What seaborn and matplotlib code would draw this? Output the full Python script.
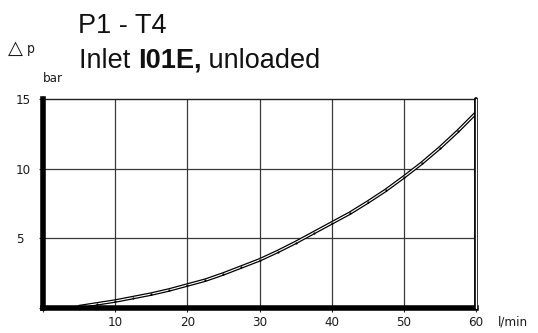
import matplotlib
matplotlib.use("Agg")
import matplotlib.pyplot as plt
import matplotlib.patheffects as pe
import seaborn as sns
import pandas as pd

# Pressure drop curve, P1 -> T4, inlet I01E unloaded
flow_lpm = [5, 7.5, 10, 12.5, 15, 17.5, 20, 22.5, 25, 27.5, 30, 32.5,
            35, 37.5, 40, 42.5, 45, 47.5, 50, 52.5, 55, 57.5, 60]
dp_bar = [0.1, 0.3, 0.5, 0.75, 1.0, 1.3, 1.65, 2.0, 2.45, 2.95, 3.45, 4.05,
          4.7, 5.4, 6.1, 6.8, 7.6, 8.45, 9.4, 10.4, 11.5, 12.7, 14.0]

x_ticks = [0, 10, 20, 30, 40, 50, 60]
x_tick_labels = ["", "10", "20", "30", "40", "50", "60"]
y_ticks = [0, 5, 10, 15]
y_tick_labels = ["", "5", "10", "15"]

title_line1 = "P1 - T4"
title_prefix = "Inlet "
title_bold = "I01E,"
title_suffix = " unloaded"

df = pd.DataFrame({"flow": flow_lpm, "dp": dp_bar})

sns.set_style("white")
plt.rcParams["font.family"] = ["DejaVu Sans"]

W, H = 538, 333
fig = plt.figure(figsize=(W / 100, H / 100), dpi=100)
ax = fig.add_axes([43 / W, 1 - 308 / H, (476 - 43) / W, (308 - 99) / H])

ax.set_xlim(0, 60)
ax.set_ylim(0, 15)

# grid
for gx in [10, 20, 30, 40, 50]:
    ax.axvline(gx, color="#3a3a3a", lw=0.9, zorder=1)
for gy in [5, 10]:
    ax.axhline(gy, color="#3a3a3a", lw=0.9, zorder=1)

# curve drawn as a hollow double line with small dots
sns.lineplot(data=df, x="flow", y="dp", ax=ax, color="white", lw=0.8,
             zorder=4, legend=False,
             path_effects=[pe.Stroke(linewidth=2.6, foreground="black"), pe.Normal()])
sns.scatterplot(data=df.iloc[1:], x="flow", y="dp", ax=ax, color="black",
                s=2.5, linewidth=0, zorder=5, legend=False)

# frame
for side in ["left", "bottom"]:
    ax.spines[side].set_linewidth(4.0)
    ax.spines[side].set_color("black")
    ax.spines[side].set_zorder(6)
ax.spines["top"].set_linewidth(1.0)
ax.spines["top"].set_color("#222222")
ax.spines["right"].set_visible(False)
ax.axvline(60, color="black", lw=2.8, zorder=6, clip_on=False)
ax.axvline(60, color="white", lw=1.0, zorder=7, clip_on=False)

tick_font = dict(family="DejaVu Sans", stretch="condensed", size=9.5, color="#1a1a1a")

ax.set_xticks(x_ticks)
ax.set_xticklabels(x_tick_labels, **tick_font)
ax.set_yticks(y_ticks)
ax.set_yticklabels(y_tick_labels, **tick_font)
for lab in ax.get_yticklabels():
    lab.set_ha("left")
ax.tick_params(axis="x", direction="out", length=3, width=0.8, pad=3, bottom=True)
ax.tick_params(axis="y", direction="out", length=3, width=0.8, pad=16.5, left=True)
ax.set_xlabel("")
ax.set_ylabel("")

ax.annotate("l/min", xy=(1, 0), xycoords="axes fraction", xytext=(22, -14),
            textcoords="offset pixels", ha="left", va="center", **tick_font)

# axis quantity and unit
fig.text(8 / W, 1 - 48 / H, "\u25b3", ha="left", va="center",
         family="DejaVu Sans", size=14, color="#1a1a1a")
fig.text(27 / W, 1 - 49 / H, "p", ha="left", va="center",
         family="DejaVu Sans", stretch="condensed", size=10, color="#1a1a1a")
fig.text(43 / W, 1 - 78 / H, "bar", ha="left", va="center", **tick_font)

# title lines
fig.text(78 / W, 1 - 33 / H, title_line1, ha="left", va="baseline",
         family="Liberation Sans", size=19.5, color="#111111")
t1 = fig.text(79 / W, 1 - 68 / H, title_prefix, ha="left", va="baseline",
              family="Liberation Sans", size=19.5, color="#111111")
t2 = ax.annotate(title_bold, xy=(1, 0), xycoords=t1, ha="left", va="bottom",
                 family="Liberation Sans", weight="bold", size=19.5, color="#111111",
                 annotation_clip=False)
ax.annotate(title_suffix, xy=(1, 0), xycoords=t2, ha="left", va="bottom",
            family="Liberation Sans", size=19.5, color="#111111",
            annotation_clip=False)

fig.savefig("out.png", dpi=100)
